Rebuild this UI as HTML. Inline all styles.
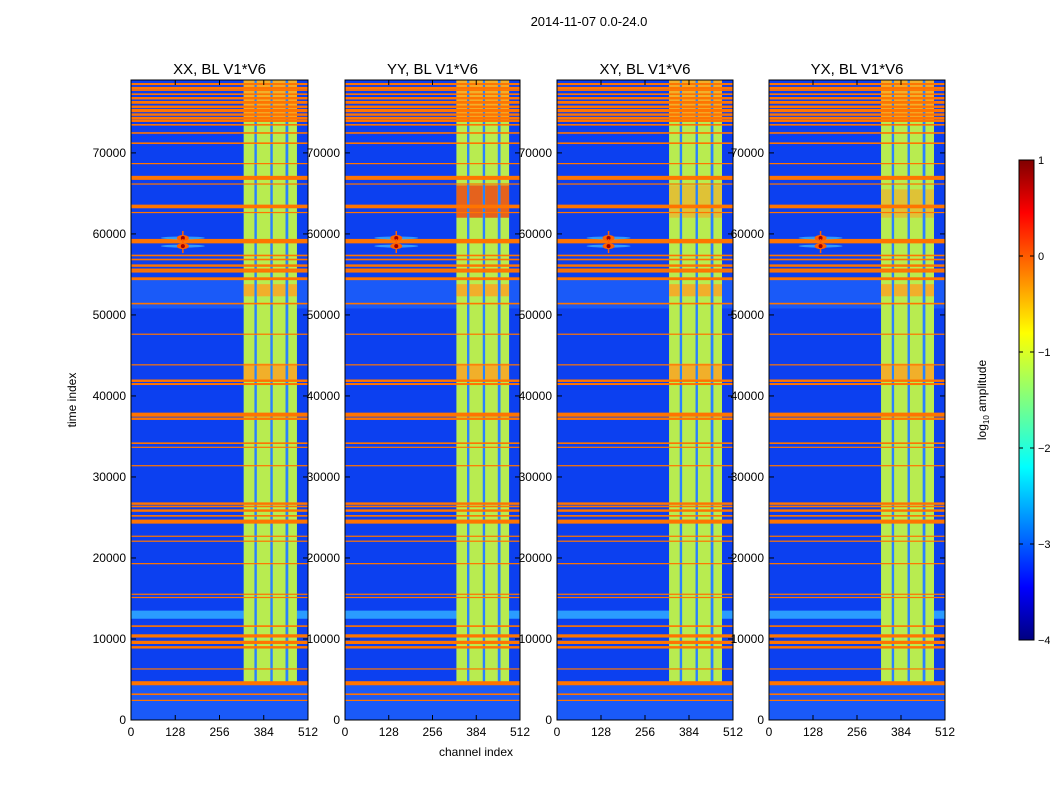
<!DOCTYPE html>
<html><head><meta charset="utf-8">
<style>
body{margin:0;background:#fff;font-family:"Liberation Sans",sans-serif;}
svg text{font-family:"Liberation Sans",sans-serif;}
</style></head>
<body>
<svg id="fig" width="1050" height="800" viewBox="0 0 1050 800">
<defs>
<linearGradient id="jet" x1="0" y1="1" x2="0" y2="0">
<stop offset="0" stop-color="#000080"/><stop offset="0.11" stop-color="#0000ff"/>
<stop offset="0.36" stop-color="#00ffff"/><stop offset="0.5" stop-color="#80ff80"/>
<stop offset="0.64" stop-color="#ffff00"/><stop offset="0.89" stop-color="#ff0000"/>
<stop offset="1" stop-color="#800000"/></linearGradient>
</defs>
<text x="589" y="26" font-size="13" text-anchor="middle">2014-11-07 0.0-24.0</text>
<g id="panels"></g>
<text x="476" y="756" font-size="12" text-anchor="middle">channel index</text>
<text transform="translate(76,400) rotate(-90)" font-size="12" text-anchor="middle">time index</text>
<g>
<rect x="1019" y="160" width="15" height="480" fill="url(#jet)" stroke="#000" stroke-width="1"/>
<g id="cbticks"></g>
<text transform="translate(986,400) rotate(-90)" font-size="12" text-anchor="middle">log<tspan font-size="8" dy="3">10</tspan><tspan dy="-3"> amplitude</tspan></text>
</g>
</svg>
<script>
const titles=["XX, BL V1*V6","YY, BL V1*V6","XY, BL V1*V6","YX, BL V1*V6"];
const xTicks=[0,128,256,384,512];
const yTicks=[0,10000,20000,30000,40000,50000,60000,70000];
const cbTicks=[1,0,-1,-2,-3,-4];
const rfiTimes=[78500,78000,77750,77250,76750,76240,75700,75230,74730,74300,73970,73470,72460,71200,68680,66920,66160,63390,62640,59110,57340,56840,56090,55580,55330,54470,51400,47620,43840,41880,41470,37690,37190,34170,33660,31390,26710,26360,25850,25200,24590,24340,22680,22070,19300,15520,15120,11590,10380,9580,8970,6300,4540,3180,2420];
const rfiWidths=[250,300,200,200,300,350,300,400,300,300,300,200,200,200,150,500,150,450,150,550,200,200,300,300,200,350,200,150,150,300,250,500,300,200,150,150,300,200,300,200,300,200,150,150,150,150,150,200,400,400,300,150,500,200,150];
const colStarts=[326,364,410,455];
const colEnds=[357,403,447,480];
const bandStart=4500, bandEnd=79000;
const patchT0=[[52300,42000,74000],[52300,42000,74000,62000],[52300,42000,74000,62000],[52300,42000,74000,62000]];
const patchT1=[[53800,44000,79000],[53800,44000,79000,66000],[53800,44000,79000,66000],[53800,44000,79000,65500]];
const starChan=150, starTimes=[59500,58500];
const lightT0=[0,12500,50800], lightT1=[4500,13500,54500];

const PX=[131,345,557,769], PW=[177,175,176,176], PT=80, PB=720, TMAX=79000;
const NS="http://www.w3.org/2000/svg";
function el(t,a,p){const e=document.createElementNS(NS,t);for(const k in a)e.setAttribute(k,a[k]);p.appendChild(e);return e;}
const yS=t=>PB-(t/TMAX)*(PB-PT);
const panelsG=document.getElementById('panels');
for(let p=0;p<4;p++){
 const x0=PX[p], w=PW[p]; const xS=c=>x0+c/512*w;
 const g=el('g',{},panelsG);
 
 
 el('rect',{x:x0,y:PT,width:w,height:PB-PT,fill:'#0c40f0'},g);
 lightT0.forEach((t0,i)=>{const r=el('rect',{x:x0,y:yS(lightT1[i]),width:w,height:yS(t0)-yS(lightT1[i]),fill:i==1?'#2a9cff':'#1a5af8'},g);
  });
 const bb=el('rect',{x:xS(colStarts[0]),y:yS(bandEnd),width:xS(colEnds[3])-xS(colStarts[0]),height:yS(bandStart)-yS(bandEnd),fill:'#2a80ff'},g);
 
 colStarts.forEach((c,i)=>{const r=el('rect',{x:xS(c),y:yS(bandEnd),width:xS(colEnds[i])-xS(c),height:yS(bandStart)-yS(bandEnd),fill:'#b8ec50'},g);
  });
 patchT0[p].forEach((t0,i)=>{colStarts.forEach((c,j)=>{const r=el('rect',{x:xS(c),y:yS(patchT1[p][i]),width:xS(colEnds[j])-xS(c),height:yS(t0)-yS(patchT1[p][i]),fill:(i>=3&&p==1)?'#f04010':'#ffa020',opacity:i>=3&&p!=1?0.55:0.8},g);
  });});
 rfiTimes.forEach((t,i)=>{const h=Math.max(1.2,rfiWidths[i]/TMAX*(PB-PT));const r=el('rect',{x:x0,y:yS(t)-h/2,width:w,height:h,fill:'#ff7400'},g);
  });
 starTimes.forEach(t=>{const s=el('g',{},g);
  el('ellipse',{cx:xS(starChan),cy:yS(t),rx:22,ry:1.5,fill:'#40c0ff',opacity:0.7},s);
  el('ellipse',{cx:xS(starChan),cy:yS(t),rx:6,ry:3,fill:'#ff6000'},s);
  el('rect',{x:xS(starChan)-0.75,y:yS(t)-7,width:1.5,height:14,fill:'#ff6000'},s);
  el('circle',{cx:xS(starChan),cy:yS(t),r:2,fill:'#a00000'},s);});
 el('rect',{x:x0,y:PT,width:w,height:PB-PT,fill:'none',stroke:'#000','stroke-width':1},g);
 const tt=el('text',{x:x0+w/2,y:74,'font-size':15,'text-anchor':'middle'},g);tt.textContent=titles[p];
 
 xTicks.forEach(v=>{const x=xS(v);el('line',{x1:x,x2:x,y1:PB,y2:PB-5,stroke:'#000'},g);el('line',{x1:x,x2:x,y1:PT,y2:PT+5,stroke:'#000'},g);
  const t=el('text',{x:x,y:736,'font-size':12,'text-anchor':'middle'},g);t.textContent=v;
  });
 yTicks.forEach(v=>{const y=yS(v);el('line',{x1:x0,x2:x0+5,y1:y,y2:y,stroke:'#000'},g);el('line',{x1:x0+w,x2:x0+w-5,y1:y,y2:y,stroke:'#000'},g);
  const t=el('text',{x:x0-5,y:y+4,'font-size':12,'text-anchor':'end'},g);t.textContent=v;
  });
}
const cb=document.getElementById('cbticks');
cbTicks.forEach(v=>{const y=160+(1-v)/5*480;el('line',{x1:1019,x2:1023,y1:y,y2:y,stroke:'#000'},cb);el('line',{x1:1030,x2:1034,y1:y,y2:y,stroke:'#000'},cb);
 const t=el('text',{x:1038,y:y+4,'font-size':11},cb);t.textContent=v<0?'\u2212'+(-v):v;
 });
</script>
</body></html>
